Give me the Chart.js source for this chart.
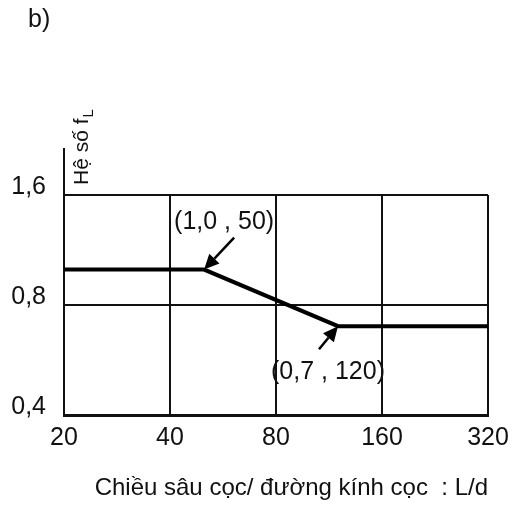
<!DOCTYPE html>
<html>
<head>
<meta charset="utf-8">
<script src="https://cdn.jsdelivr.net/npm/chart.js@4.4.1/dist/chart.umd.min.js"></script>
<style>
  html, body { margin: 0; padding: 0; background: #fff; }
  #wrap { width: 524px; height: 508px; }
</style>
</head>
<body>
<div id="wrap"><canvas id="chart" width="524" height="508"></canvas></div>
<script>
// Data
const depthRatio = [20, 50, 120, 320];      // L/d
const factorFL = [1.0, 1.0, 0.7, 0.7];      // f_L
const xTicks = [20, 40, 80, 160, 320];
const yTicks = [0.4, 0.8, 1.6];
const annotatedPoints = [1, 2];             // indexes of the labelled knees

const FONT = "'Liberation Sans', Arial, sans-serif";
const INK = '#111';

const comma = (v, d) => v.toFixed(d).replace('.', ',');

// Extra drawing: panel letter, y title, the axis stub above 1.6 and the arrow notes
const decorPlugin = {
    id: 'decor',
    afterDatasetsDraw(chart) {
        const { ctx, chartArea, scales } = chart;
        ctx.save();

        // left axis goes on above the top grid line
        ctx.strokeStyle = INK;
        ctx.lineWidth = 2;
        ctx.beginPath();
        ctx.moveTo(chartArea.left, chartArea.top);
        ctx.lineTo(chartArea.left, chartArea.top - 47);
        ctx.stroke();

        ctx.fillStyle = INK;
        ctx.font = `25px ${FONT}`;
        ctx.textAlign = 'left';
        ctx.textBaseline = 'alphabetic';
        ctx.fillText('b)', 28, 27);

        // rotated y title "Hệ số f_L"
        ctx.save();
        ctx.translate(chartArea.left + 24, chartArea.top - 10);
        ctx.rotate(-Math.PI / 2);
        ctx.font = `21px ${FONT}`;
        ctx.fillText('Hệ số f', 0, 0);
        const w = ctx.measureText('Hệ số f').width;
        ctx.font = `15px ${FONT}`;
        ctx.fillText('L', w + 1, 5);
        ctx.restore();

        // arrows + labels
        const offsets = [
            { tail: [30, -32], text: [20, -47] },
            { tail: [-19, 23], text: [-10, 46] }
        ];
        annotatedPoints.forEach((i, k) => {
            const px = scales.x.getPixelForValue(depthRatio[i]);
            const py = scales.y.getPixelForValue(factorFL[i]);
            const o = offsets[k];
            const tx = px + o.tail[0], ty = py + o.tail[1];
            const ang = Math.atan2(py - ty, px - tx);
            const head = 15, half = 7;
            const bx = px - head * Math.cos(ang), by = py - head * Math.sin(ang);

            ctx.strokeStyle = '#000';
            ctx.lineWidth = 2.5;
            ctx.beginPath();
            ctx.moveTo(tx, ty);
            ctx.lineTo(bx, by);
            ctx.stroke();

            ctx.fillStyle = '#000';
            ctx.beginPath();
            ctx.moveTo(px, py);
            ctx.lineTo(bx + half * Math.sin(ang), by - half * Math.cos(ang));
            ctx.lineTo(bx - half * Math.sin(ang), by + half * Math.cos(ang));
            ctx.closePath();
            ctx.fill();

            ctx.fillStyle = INK;
            ctx.font = `25px ${FONT}`;
            ctx.textAlign = 'center';
            ctx.textBaseline = 'middle';
            ctx.fillText(`(${comma(factorFL[i], 1)} , ${depthRatio[i]})`, px + o.text[0], py + o.text[1]);
        });

        ctx.restore();
    }
};

const ctx = document.getElementById('chart').getContext('2d');
new Chart(ctx, {
    type: 'line',
    data: {
        datasets: [{
            data: depthRatio.map((x, i) => ({ x: x, y: factorFL[i] })),
            borderColor: '#000',
            borderWidth: 4,
            pointRadius: 0,
            tension: 0,
            fill: false
        }]
    },
    options: {
        responsive: false,
        animation: false,
        layout: { padding: { left: 0, top: 195, right: 36, bottom: 0 } },
        plugins: {
            legend: { display: false },
            tooltip: { enabled: false }
        },
        scales: {
            x: {
                type: 'logarithmic',
                min: 20,
                max: 320,
                afterBuildTicks: (scale) => { scale.ticks = xTicks.map(v => ({ value: v })); },
                afterFit: (scale) => { scale.height = 93; },
                grid: { color: INK, lineWidth: 2, drawTicks: false },
                border: { color: INK, width: 3 },
                ticks: {
                    color: INK,
                    padding: 8,
                    maxRotation: 0,
                    autoSkip: false,
                    font: { family: FONT, size: 25 },
                    callback: (v) => String(v)
                },
                title: {
                    display: true,
                    text: 'Chiều sâu cọc/ đường kính cọc  : L/d',
                    align: 'end',
                    color: INK,
                    font: { family: FONT, size: 24 },
                    padding: { top: 10, bottom: 5 }
                }
            },
            y: {
                type: 'logarithmic',
                min: 0.4,
                max: 1.6,
                afterBuildTicks: (scale) => { scale.ticks = yTicks.map(v => ({ value: v })); },
                afterFit: (scale) => { scale.width = 64; },
                grid: { color: INK, lineWidth: 2, drawTicks: false },
                border: { color: INK, width: 2 },
                ticks: {
                    color: INK,
                    padding: 18,
                    labelOffset: -8,
                    autoSkip: false,
                    font: { family: FONT, size: 25 },
                    callback: (v) => comma(v, 1)
                }
            }
        }
    },
    plugins: [decorPlugin]
});
</script>
</body>
</html>
